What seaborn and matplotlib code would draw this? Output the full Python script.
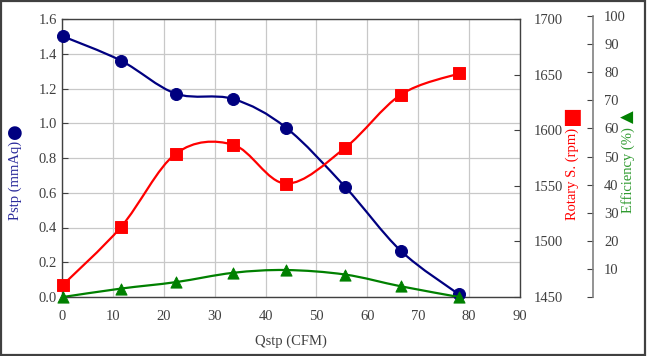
import numpy as np
import pandas as pd
import matplotlib
matplotlib.use('Agg')
import matplotlib.pyplot as plt
from matplotlib.path import Path
from matplotlib.patches import PathPatch, Rectangle
import seaborn as sns

# datos
qstp = [0.2, 11.6, 22.4, 33.6, 44.0, 55.6, 66.6, 78.0]
pstp = [1.50, 1.36, 1.17, 1.14, 0.975, 0.635, 0.265, 0.015]
rpm = [1461, 1513, 1579, 1587, 1552, 1584, 1632, 1651]
efic = [0.0, 3.0, 5.3, 8.6, 9.6, 8.0, 3.8, 0.0]

x_ticks = list(range(0, 91, 10))
p_ticks = [0.0, 0.2, 0.4, 0.6, 0.8, 1.0, 1.2, 1.4, 1.6]
rpm_ticks = [1450, 1500, 1550, 1600, 1650, 1700]
ef_ticks = list(range(0, 101, 10))

AZUL = '#000080'
ROJO = '#ff0000'
VERDE = '#008000'
GRIS = '#404040'

sns.set_style('white')
plt.rcParams['font.family'] = ['Liberation Serif', 'DejaVu Serif']
plt.rcParams['font.size'] = 10


def curva_suave(ax, xs, ys, color):
    '''Linea suavizada tipo Excel (Bezier por Catmull-Rom)'''
    pts = np.column_stack([xs, ys]).astype(float)
    n = len(pts)
    verts = [pts[0]]
    codes = [Path.MOVETO]
    for i in range(n - 1):
        p0 = pts[i - 1] if i > 0 else pts[i]
        p3 = pts[i + 2] if i + 2 < n else pts[i + 1]
        c1 = pts[i] + (pts[i + 1] - p0) / 6.0
        c2 = pts[i + 1] - (p3 - pts[i]) / 6.0
        verts += [c1, c2, pts[i + 1]]
        codes += [Path.CURVE4] * 3
    patch = PathPatch(Path(verts, codes), facecolor='none', edgecolor=color, lw=1.6, zorder=3)
    ax.add_patch(patch)


df = pd.DataFrame({'Qstp': qstp, 'Pstp': pstp, 'rpm': rpm, 'efic': efic})

fig = plt.figure(figsize=(6.47, 3.56), dpi=100)
W, H = 647, 356
x0, x1 = 62, 520
y_bot, y_top = 297, 19
ax = fig.add_axes([x0 / W, 1 - y_bot / H, (x1 - x0) / W, (y_bot - y_top) / H])
ax2 = ax.twinx()
ax3 = fig.add_axes([x0 / W, 1 - y_bot / H, (x1 - x0) / W, (y_bot - 16) / H])

# presion
ax.set_xlim(0, 90)
ax.set_ylim(0, 1.6)
ax.set_xticks(x_ticks)
ax.set_yticks(p_ticks)
ax.set_yticklabels([f'{v:.1f}' for v in p_ticks])
ax.grid(True, color='#c8c8c8', lw=0.9)
ax.set_axisbelow(True)
for s in ax.spines.values():
    s.set_color(GRIS)
    s.set_linewidth(1.0)
ax.tick_params(direction='in', length=4, colors=GRIS, labelcolor=GRIS, labelsize=10.5)
ax.tick_params(axis='x', pad=9)
curva_suave(ax, qstp, pstp, AZUL)
sns.scatterplot(data=df, x='Qstp', y='Pstp', ax=ax, color=AZUL, marker='o', s=75,
                edgecolor=AZUL, zorder=4, clip_on=False)
ax.set_xlabel('Qstp (CFM)', color=GRIS, fontsize=10.5, labelpad=9)
ax.set_ylabel('')

# rpm
ax2.set_ylim(1450, 1700)
ax2.set_yticks(rpm_ticks)
ax2.tick_params(direction='in', length=4, colors=GRIS, labelcolor=GRIS, labelsize=10.5, pad=10)
curva_suave(ax2, qstp, rpm, ROJO)
sns.scatterplot(data=df, x='Qstp', y='rpm', ax=ax2, color=ROJO, marker='s', s=70,
                edgecolor=ROJO, zorder=4, clip_on=False)
ax2.set_ylabel('')
ax2.set_xlim(0, 90)
for s in ax2.spines.values():
    s.set_visible(False)

# eficiencia
ax3.patch.set_visible(False)
ax3.set_xlim(0, 90)
ax3.set_ylim(0, 100)
for k in ['top', 'left', 'bottom']:
    ax3.spines[k].set_visible(False)
ax3.spines['right'].set_position(('axes', (593 - x0) / (x1 - x0)))
ax3.spines['right'].set_color('#808080')
ax3.spines['right'].set_linewidth(1.2)
ax3.yaxis.tick_right()
ax3.set_yticks(ef_ticks)
ax3.set_yticklabels([''] + [str(v) for v in ef_ticks[1:]])
ax3.set_xticks([])
ax3.tick_params(axis='y', direction='in', length=4, colors=GRIS, labelcolor=GRIS, labelsize=10.5, pad=8)
curva_suave(ax3, qstp, efic, VERDE)
sns.scatterplot(data=df, x='Qstp', y='efic', ax=ax3, color=VERDE, marker='^', s=65,
                edgecolor=VERDE, zorder=4, clip_on=False)
ax3.set_xlabel('')
ax3.set_ylabel('')

# titulos de ejes con su simbolo
fig.text(15 / W, 1 - 180 / H, 'Pstp (mmAq)', color='#2b2b9b', rotation=90,
         ha='center', va='center', fontsize=10.5)
fig.text(15 / W, 1 - 133 / H, '\u25CF', color=AZUL, ha='center', va='center',
         fontsize=13, family='DejaVu Sans')
fig.text(572 / W, 1 - 174 / H, 'Rotary S. (rpm)', color=ROJO, rotation=90,
         ha='center', va='center', fontsize=10.5)
fig.text(572 / W, 1 - 117 / H, '\u25A0', color=ROJO, ha='center', va='center',
         fontsize=15, family='DejaVu Sans')
fig.text(628 / W, 1 - 170 / H, 'Efficiency (%)', color='#2e9a2e', rotation=90,
         ha='center', va='center', fontsize=10.5)
fig.text(628 / W, 1 - 117 / H, '\u25B2', color=VERDE, ha='center', va='center',
         fontsize=12, rotation=90, family='DejaVu Sans')

fig.patches.append(Rectangle((0.002, 0.003), 0.995, 0.993, transform=fig.transFigure,
                             fill=False, edgecolor=GRIS, lw=1.6))

fig.savefig('out.png', dpi=100)
